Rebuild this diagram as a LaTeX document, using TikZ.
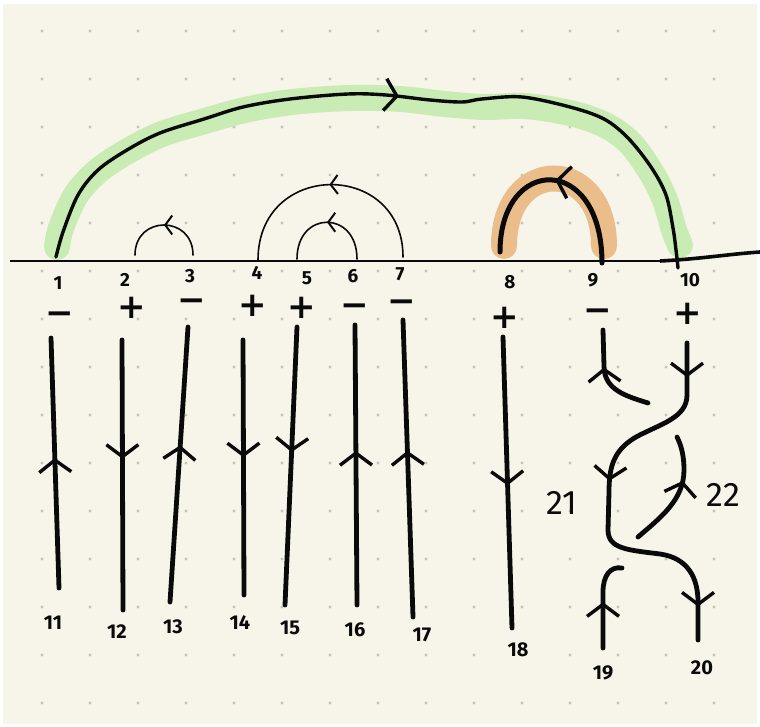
\documentclass[tikz,border=0pt]{standalone}
\usepackage{fontspec}
\setmainfont{Fira Sans}
\newfontfamily\signfont{DejaVu Sans}
\usepackage{tikz}
\usetikzlibrary{arrows.meta,decorations.markings}
\definecolor{paper}{RGB}{247,245,233}
\definecolor{griddot}{RGB}{196,196,186}
\definecolor{loopgreen}{RGB}{201,236,180}
\definecolor{looporange}{RGB}{234,189,139}
\definecolor{inkblack}{RGB}{10,10,10}

\begin{document}
\begin{tikzpicture}[
                x=1pt, y=-1pt,
                barb/.tip={Straight Barb[length=12pt,width=32pt,line width=3.4pt]},
                thinbarb/.tip={Straight Barb[length=7pt,width=19pt,line width=2pt]},
                strand/.style={draw=inkblack, line width=4.8pt, line cap=round},
                flow/.style={postaction={decorate}, decoration={markings, mark=at position #1 with {\arrow{barb}}}},
                thinflow/.style={postaction={decorate}, decoration={markings, mark=at position #1 with {\arrow{thinbarb}}}},
                smallarc/.style={draw=inkblack, line width=1.6pt, line cap=round},
                bigarc/.style={draw=inkblack, line width=3.4pt, line cap=round},
                band/.style={line width=26pt, line cap=round},
                toplbl/.style={font=\fontsize{19}{19}\selectfont\bfseries, inner sep=0pt, text=inkblack},
                sign/.style={font=\signfont\fontsize{34}{34}\selectfont\bfseries, inner sep=0pt, text height=23pt, text depth=0pt, text=inkblack},
                endlbl/.style={font=\fontsize{20}{20}\selectfont\bfseries, inner sep=0pt, text=inkblack},
                crosslbl/.style={font=\fontsize{34}{34}\selectfont, inner sep=0pt, text=inkblack}
                ]
                \useasboundingbox (0,0) rectangle (760,727);
                \fill[white] (0,0) rectangle (760,727);
                \fill[paper] (3,4) rectangle (757,724);
                \foreach \i in {0,...,14}
                    \foreach \j in {0,...,14}
                        \fill[griddot] (42+48*\i, 31+48*\j) circle (1.6);

                % feet of the arcs on the line
                \coordinate (f1) at (56,257);
                \coordinate (f2) at (135,255);
                \coordinate (f3) at (193,255);
                \coordinate (f4) at (258,260);
                \coordinate (f5) at (297,259);
                \coordinate (f6) at (357,259);
                \coordinate (f7) at (403,257);
                \coordinate (f8) at (500,252);
                \coordinate (f9) at (602,263);
                \coordinate (f10) at (678,268);

                % highlights under the two marked loops
                \draw[band, loopgreen] plot[smooth, tension=0.55] coordinates {(57,247) (61,228) (76,195) (98,171) (128,151) (162,134) (205,121) (245,110) (292,102) (350,98) (400,99) (445,104) (485,107) (525,106) (570,113) (605,125) (630,143) (651,172) (665,200) (674,230) (680,245)};
                \draw[band, looporange] (604,246) .. controls (604,156) and (504,156) .. (504,246);

                % the line
                \coordinate (lineL) at (10,261);
                \coordinate (lineM) at (660,261);
                \coordinate (lineR) at (760,252);
                \draw[inkblack, line width=2pt] (lineL) -- (lineM);
                \draw[inkblack, line width=3.6pt] (lineM) .. controls (700,259) and (730,254) .. (lineR);

                % arcs above the line
                \draw[bigarc, flow=0.52] plot[smooth, tension=0.55] coordinates {(f1) (63,232) (78,195) (98,170) (127,150) (160,133) (204,119) (243,107) (290,99) (348,94) (386,95) (430,100) (462,102) (482,99) (522,97) (570,107) (604,119) (628,138) (651,167) (666,195) (673,228) (676,250) (f10)};
                \draw[smallarc, thinflow=0.5] (f3) .. controls (193,215) and (135,215) .. (f2);
                \draw[smallarc, thinflow=0.5] (f7) .. controls (403,160) and (258,160) .. (f4);
                \draw[smallarc, thinflow=0.5] (f6) .. controls (357,210) and (297,210) .. (f5);
                \draw[draw=inkblack, line width=5pt, line cap=round, flow=0.5] (f9) .. controls (602,153) and (500,155) .. (f8);

                % numbers and signs under the line
                \node[toplbl] (n1) at (58,283) {1};
                \node[toplbl] (n2) at (125,280) {2};
                \node[toplbl] (n3) at (190,276) {3};
                \node[toplbl] (n4) at (257,273) {4};
                \node[toplbl] (n5) at (307,278) {5};
                \node[toplbl] (n6) at (353,276) {6};
                \node[toplbl] (n7) at (400,274) {7};
                \node[toplbl] (n8) at (510,282) {8};
                \node[toplbl] (n9) at (593,280) {9};
                \node[toplbl] (n10) at (690,280) {10};
                \node[sign] (s1) at (60,313) {−};
                \node[sign] (s2) at (132,307) {+};
                \node[sign] (s3) at (192,300) {−};
                \node[sign] (s4) at (253,305) {+};
                \node[sign] (s5) at (302,307) {+};
                \node[sign] (s6) at (355,305) {−};
                \node[sign] (s7) at (402,301) {−};
                \node[sign] (s8) at (505,317) {+};
                \node[sign] (s9) at (598,310) {−};
                \node[sign] (s10) at (688,313) {+};

                % straight strands
                \coordinate (t11) at (51,338);  \coordinate (b11) at (59,588);
                \coordinate (t12) at (122,340); \coordinate (b12) at (123,610);
                \coordinate (t13) at (188,327); \coordinate (b13) at (170,602);
                \coordinate (t14) at (243,340); \coordinate (b14) at (244,595);
                \coordinate (t15) at (297,327); \coordinate (b15) at (285,605);
                \coordinate (t16) at (355,325); \coordinate (b16) at (357,605);
                \coordinate (t17) at (403,320); \coordinate (b17) at (413,617);
                \coordinate (t18) at (503,337); \coordinate (b18) at (512,628);
                \draw[strand, flow=0.52] (b11) -- (t11);
                \draw[strand, flow=0.44] (t12) -- (b12);
                \draw[strand, flow=0.57] (b13) -- (t13);
                \draw[strand, flow=0.46] (t14) -- (b14);
                \draw[strand, flow=0.45] (t15) -- (b15);
                \draw[strand, flow=0.55] (b16) -- (t16);
                \draw[strand, flow=0.56] (b17) -- (t17);
                \draw[strand, flow=0.51] (t18) -- (b18);

                % crossing strands
                \coordinate (t9) at (603,330);
                \coordinate (t10) at (687,343);
                \coordinate (b19) at (603,648);
                \coordinate (b20) at (698,640);
                \coordinate (g1) at (648,403);
                \coordinate (g2) at (677,437);
                \coordinate (g3) at (638,537);
                \coordinate (g4) at (622,568);
                \draw[strand, flow=0.62] (g1) .. controls (626,396) and (604,390) .. (604,366) -- (t9);
                \draw[strand, flow=0.62] (g3) .. controls (660,518) and (684,500) .. (684,470) .. controls (684,455) and (681,445) .. (g2);
                \draw[strand, flow=0.5] (b19) -- (603,592) .. controls (603,576) and (610,566) .. (g4);
                \draw[strand, postaction={decorate}, decoration={markings,
                        mark=at position 0.087 with {\arrow{barb}},
                        mark=at position 0.446 with {\arrow{barb}},
                        mark=at position 0.915 with {\arrow{barb}}}]
                    (t10) -- (687,395) .. controls (687,418) and (660,424) .. (636,437)
                    .. controls (614,450) and (609,466) .. (609,492) -- (608,530)
                    .. controls (608,549) and (628,550) .. (660,554)
                    .. controls (688,558) and (698,578) .. (698,602) -- (b20);

                % strand numbers
                \node[endlbl] (e11) at (53,623) {11};
                \node[endlbl] (e12) at (117,632) {12};
                \node[endlbl] (e13) at (173,627) {13};
                \node[endlbl] (e14) at (240,623) {14};
                \node[endlbl] (e15) at (290,628) {15};
                \node[endlbl] (e16) at (355,630) {16};
                \node[endlbl] (e17) at (422,635) {17};
                \node[endlbl] (e18) at (518,650) {18};
                \node[endlbl] (e19) at (603,673) {19};
                \node[endlbl] (e20) at (702,668) {20};
                \node[crosslbl] (e21) at (562,503) {21};
                \node[crosslbl] (e22) at (723,495) {22};
            \end{tikzpicture}
\end{document}
